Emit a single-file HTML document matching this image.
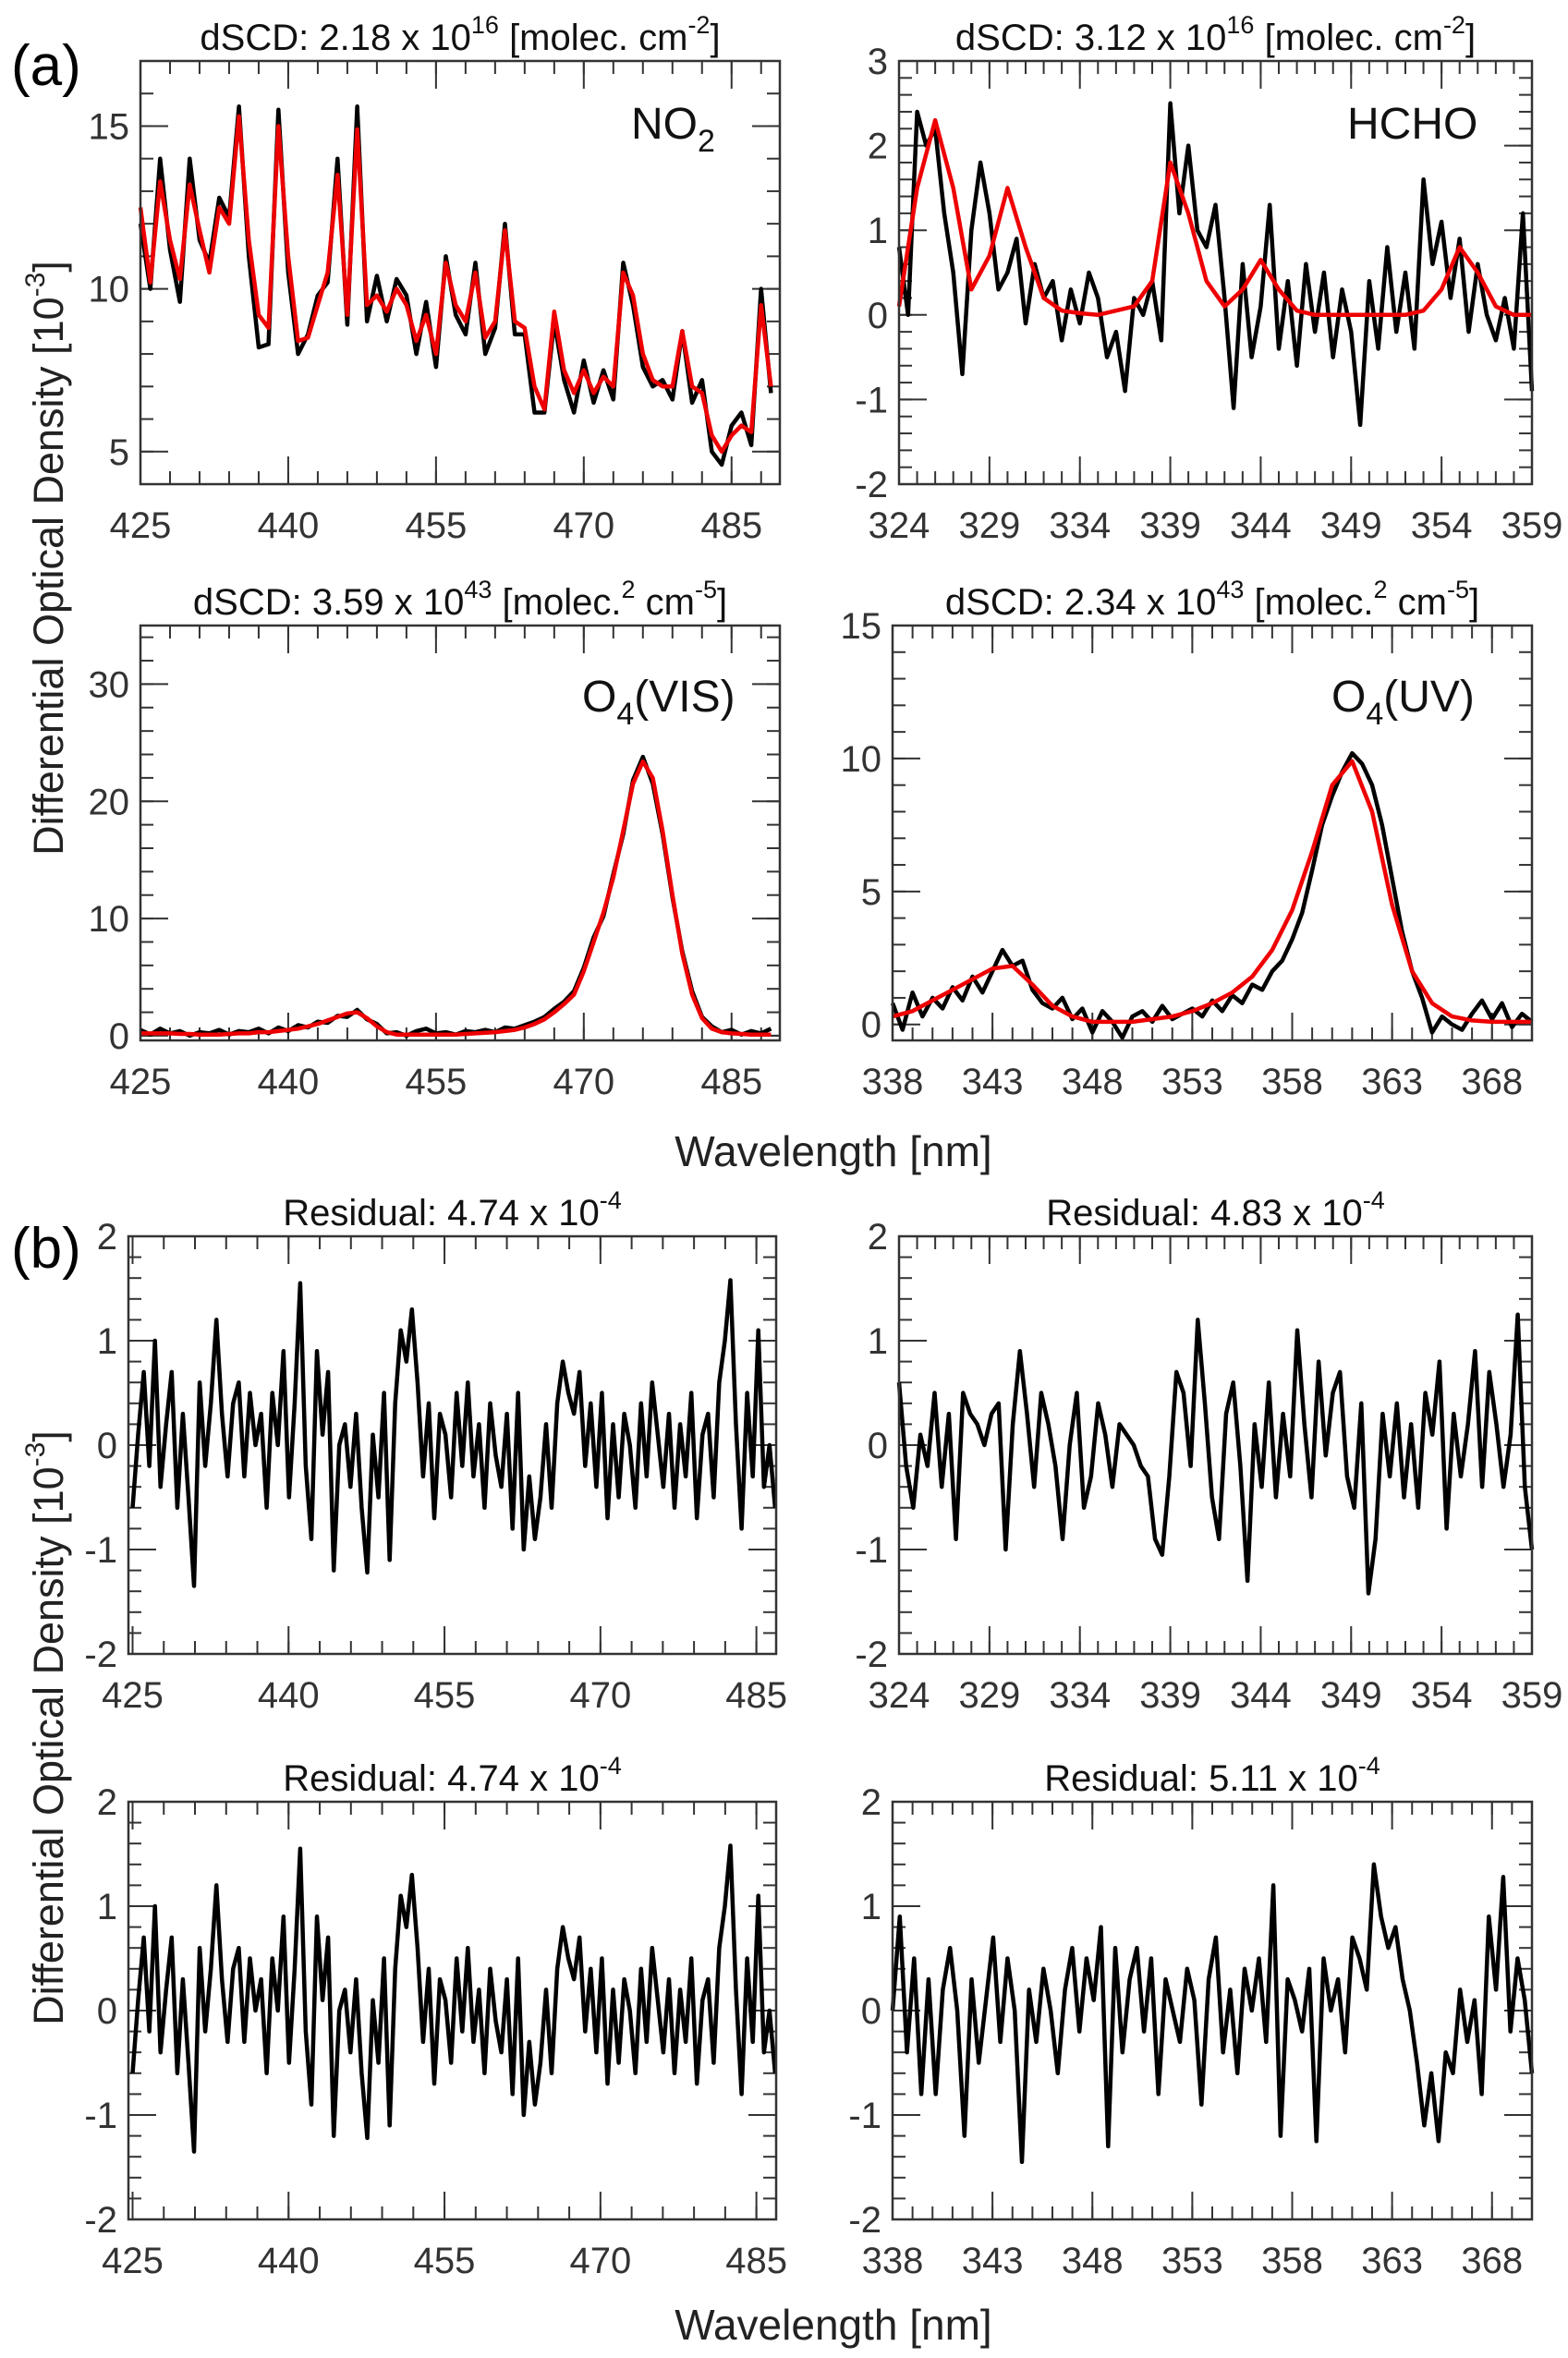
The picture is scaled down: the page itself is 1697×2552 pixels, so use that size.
<!DOCTYPE html>
<html><head><meta charset="utf-8"><title>DOAS fit panels</title>
<style>
html,body{margin:0;padding:0;background:#fff;}
svg{display:block;font-family:"Liberation Sans",Arial,sans-serif;}
</style></head>
<body>
<svg id="fig" width="1697" height="2552" viewBox="0 0 1697 2552" xmlns="http://www.w3.org/2000/svg">
<rect x="0" y="0" width="1697" height="2552" fill="#fff"/>
<text x="12" y="92" font-size="62">(a)</text>
<text x="12" y="1372" font-size="62">(b)</text>
<text transform="translate(68,604) rotate(-90)" text-anchor="middle" font-size="45" fill="#222">Differential Optical Density [10<tspan font-size="30" dy="-20">-3</tspan><tspan dy="20">]</tspan></text>
<text transform="translate(68,1870) rotate(-90)" text-anchor="middle" font-size="45" fill="#222">Differential Optical Density [10<tspan font-size="30" dy="-20">-3</tspan><tspan dy="20">]</tspan></text>
<text x="902" y="1262" text-anchor="middle" font-size="46" fill="#222">Wavelength [nm]</text>
<text x="902" y="2532" text-anchor="middle" font-size="46" fill="#222">Wavelength [nm]</text>
</svg>
<script>
// ---- data ----
const no2Fit = [12.5,10.2,13.3,11.5,10.3,13.2,11.8,10.5,12.5,12.0,15.3,11.5,9.2,8.8,15.0,11.0,8.4,8.5,9.5,10.5,13.5,9.2,14.9,9.5,9.8,9.3,10.0,9.5,8.4,9.2,8.0,10.8,9.5,9.0,10.5,8.5,9.0,11.8,9.0,8.8,7.0,6.3,9.3,7.5,6.8,7.5,6.8,7.3,7.0,10.5,9.8,8.0,7.2,7.0,7.0,8.7,7.0,6.8,5.5,5.0,5.5,5.8,5.6,9.5,7.0];
const no2Meas = [12.0,10.0,14.0,11.2,9.6,14.0,11.5,10.8,12.8,12.2,15.6,11.0,8.2,8.3,15.5,10.5,8.0,8.6,9.8,10.2,14.0,8.9,15.6,9.0,10.4,9.0,10.3,9.8,8.0,9.6,7.6,11.0,9.2,8.6,10.8,8.0,8.8,12.0,8.6,8.6,6.2,6.2,9.0,7.2,6.2,7.8,6.5,7.5,6.6,10.8,9.5,7.6,7.0,7.2,6.6,8.7,6.5,7.2,5.0,4.6,5.8,6.2,5.2,10.0,6.8];
const hchoFit = [0.1,1.5,2.3,1.5,0.3,0.7,1.5,0.8,0.2,0.05,0.02,0,0.05,0.1,0.4,1.8,1.2,0.4,0.1,0.3,0.65,0.3,0.05,0,0,0,0,0,0,0.05,0.3,0.8,0.5,0.1,0,0];
const hchoMeas = [0.8,0.0,2.4,2.0,2.2,1.2,0.5,-0.7,1.0,1.8,1.2,0.3,0.5,0.9,-0.1,0.6,0.2,0.4,-0.3,0.3,-0.1,0.5,0.2,-0.5,-0.2,-0.9,0.2,0.0,0.4,-0.3,2.5,1.2,2.0,1.0,0.8,1.3,0.2,-1.1,0.6,-0.5,0.1,1.3,-0.4,0.4,-0.6,0.6,-0.2,0.5,-0.5,0.3,-0.2,-1.3,0.4,-0.4,0.8,-0.2,0.5,-0.4,1.6,0.6,1.1,0.2,0.9,-0.2,0.6,0.0,-0.3,0.2,-0.4,1.2,-0.9];
const o4visFit = [0.2,0.2,0.2,0.2,0.15,0.15,0.1,0.1,0.1,0.15,0.2,0.2,0.3,0.3,0.4,0.5,0.6,0.8,1.0,1.3,1.6,1.9,2.0,1.5,0.8,0.3,0.1,0.1,0.1,0.1,0.1,0.1,0.1,0.15,0.2,0.25,0.3,0.4,0.5,0.7,1.0,1.4,2.0,2.7,3.5,5.5,8.0,10.5,13.5,17.5,21.5,23.4,22.0,17.5,12.0,7.0,3.5,1.5,0.6,0.3,0.2,0.15,0.1,0.1,0.1];
const o4visMeas = [0.5,0.1,0.6,0.2,0.4,0.0,0.3,0.2,0.5,0.1,0.4,0.3,0.6,0.2,0.7,0.4,0.9,0.7,1.2,1.1,1.7,1.6,2.2,1.4,1.0,0.2,0.3,0.0,0.4,0.6,0.2,0.3,0.1,0.4,0.3,0.5,0.3,0.7,0.6,0.9,1.2,1.6,2.3,2.9,3.8,5.8,8.4,10.2,13.8,17.2,21.8,23.8,21.5,17.2,11.8,7.2,3.8,1.6,0.8,0.3,0.5,0.1,0.4,0.2,0.6];
const o4uvFit = [0.3,0.5,0.9,1.3,1.7,2.1,2.2,1.5,0.7,0.3,0.1,0.1,0.1,0.2,0.3,0.5,0.8,1.2,1.8,2.8,4.3,6.5,9.0,9.9,8.0,4.5,2.0,0.8,0.3,0.15,0.1,0.1,0.1];
const o4uvMeas = [0.8,-0.2,1.2,0.3,1.0,0.6,1.4,0.9,1.8,1.2,2.0,2.8,2.2,2.4,1.3,0.8,0.6,1.0,0.2,0.6,-0.3,0.5,0.1,-0.5,0.3,0.5,0.1,0.7,0.2,0.4,0.6,0.3,0.9,0.5,1.1,0.8,1.5,1.3,2.0,2.4,3.2,4.2,5.8,7.5,8.6,9.5,10.2,9.8,9.0,7.5,5.5,3.5,2.0,1.0,-0.3,0.3,0.0,-0.2,0.4,0.9,0.2,0.8,-0.1,0.4,0.1];
const residVis = [-0.6,0.1,0.7,-0.2,1.0,-0.4,0.2,0.7,-0.6,0.3,-0.5,-1.35,0.6,-0.2,0.4,1.2,0.3,-0.3,0.4,0.6,-0.3,0.5,0.0,0.3,-0.6,0.5,0.0,0.9,-0.5,0.4,1.55,-0.2,-0.9,0.9,0.1,0.7,-1.2,0.0,0.2,-0.4,0.3,-0.6,-1.22,0.1,-0.5,0.5,-1.1,0.4,1.1,0.8,1.3,0.6,-0.3,0.4,-0.7,0.3,0.1,-0.5,0.5,-0.2,0.6,-0.3,0.2,-0.6,0.4,-0.1,-0.4,0.3,-0.8,0.5,-1.0,-0.3,-0.9,-0.5,0.2,-0.6,0.4,0.8,0.5,0.3,0.7,-0.2,0.4,-0.4,0.5,-0.7,0.2,-0.5,0.3,0.0,-0.6,0.4,-0.3,0.6,0.1,-0.4,0.3,-0.6,0.2,-0.3,0.5,-0.7,0.1,0.3,-0.5,0.6,1.0,1.58,0.2,-0.8,0.5,-0.3,1.1,-0.4,0.0,-0.6];
const residHcho = [0.6,-0.2,-0.6,0.1,-0.2,0.5,-0.4,0.3,-0.9,0.5,0.3,0.2,0.0,0.3,0.4,-1.0,0.2,0.9,0.3,-0.4,0.5,0.2,-0.2,-0.9,0.0,0.5,-0.6,-0.3,0.4,0.1,-0.4,0.2,0.1,0.0,-0.2,-0.3,-0.9,-1.05,-0.3,0.7,0.5,-0.2,1.2,0.4,-0.5,-0.9,0.3,0.6,-0.2,-1.3,0.2,-0.4,0.6,-0.5,0.3,-0.3,1.1,0.2,-0.5,0.8,-0.1,0.5,0.7,-0.3,-0.6,0.4,-1.42,-0.9,0.3,-0.3,0.4,-0.5,0.2,-0.6,0.5,0.1,0.8,-0.8,0.3,-0.3,0.2,0.9,-0.4,0.7,0.2,-0.4,0.1,1.25,-0.4,-1.0];
const residVis2 = residVis;
const residUv = [0.0,0.9,-0.4,0.5,-0.8,0.3,-0.8,0.2,0.6,0.0,-1.2,0.3,-0.5,0.1,0.7,-0.3,0.5,0.0,-1.45,0.2,-0.3,0.4,0.0,-0.6,0.2,0.6,-0.2,0.5,0.1,0.8,-1.3,0.6,-0.4,0.3,0.6,-0.2,0.5,-0.8,0.3,0.0,-0.3,0.4,0.1,-0.9,0.3,0.7,-0.4,0.2,-0.6,0.4,0.0,0.5,-0.3,1.2,-1.2,0.3,0.1,-0.2,0.4,-1.25,0.5,0.0,0.3,-0.4,0.7,0.5,0.2,1.4,0.9,0.6,0.8,0.3,0.0,-0.5,-1.1,-0.6,-1.25,-0.4,-0.6,0.2,-0.3,0.1,-0.8,0.9,0.2,1.28,-0.2,0.5,0.1,-0.6];
const ticksVis = [425,440,455,470,485];
const ticksHcho = [324,329,334,339,344,349,354,359];
const ticksUv = [338,343,348,353,358,363,368];

const NS = 'http://www.w3.org/2000/svg';
const svg = document.getElementById('fig');
function mk(tag, attrs, parent){
  const e = document.createElementNS(NS, tag);
  for (const k in attrs) e.setAttribute(k, attrs[k]);
  (parent||svg).appendChild(e);
  return e;
}
function panel(c){
  const g = mk('g', {});
  
  
  const sx = v => c.L + (v - c.x0) / (c.x1 - c.x0) * (c.R - c.L);
  const sy = v => c.B - (v - c.y0) / (c.y1 - c.y0) * (c.B - c.T);
  for (let v = c.xm0; v <= c.x1 + 1e-6; v += c.xmStep){
    const x = sx(v);
    if (x <= c.L + 2 || x >= c.R - 2) continue;
    const t1 = mk('line', {x1:x, x2:x, y1:c.B, y2:c.B-14, stroke:'#333','stroke-width':2}, g);
    
    
    const t2 = mk('line', {x1:x, x2:x, y1:c.T, y2:c.T+14, stroke:'#333','stroke-width':2}, g);
    
    
  }
  for (let v = c.ym0; v <= c.y1 + 1e-6; v += c.ymStep){
    const y = sy(v);
    if (y <= c.T + 2 || y >= c.B - 2) continue;
    const t1 = mk('line', {x1:c.L, x2:c.L+14, y1:y, y2:y, stroke:'#333','stroke-width':2}, g);
    
    
    const t2 = mk('line', {x1:c.R, x2:c.R-14, y1:y, y2:y, stroke:'#333','stroke-width':2}, g);
    
    
  }
  c.xt.forEach(v => {
    const x = sx(v);
    const t = mk('line', {x1:x, x2:x, y1:c.B, y2:c.B-30, stroke:'#333','stroke-width':2}, g);
    
    
    const t2 = mk('line', {x1:x, x2:x, y1:c.T, y2:c.T+30, stroke:'#333','stroke-width':2}, g);
    
    
    const l = mk('text', {x:x, y:c.B+58, 'text-anchor':'middle','font-size':40, fill:'#333'}, g);
    
    
    l.textContent = v;
  });
  c.yt.forEach(v => {
    const y = sy(v);
    const t = mk('line', {x1:c.L, x2:c.L+30, y1:y, y2:y, stroke:'#333','stroke-width':2}, g);
    
    
    const t2 = mk('line', {x1:c.R, x2:c.R-30, y1:y, y2:y, stroke:'#333','stroke-width':2}, g);
    
    
    const l = mk('text', {x:c.L-12, y:y+14, 'text-anchor':'end','font-size':40, fill:'#333'}, g);
    
    
    l.textContent = v;
  });
  c.series.forEach(s => {
    const n = s.vals.length;
    const pts = s.vals.map((v,i) => {
      const w = s.xa + i * (s.xb - s.xa) / (n - 1);
      return sx(w).toFixed(1) + ',' + sy(v).toFixed(1);
    }).join(' ');
    const p = mk('polyline', {points:pts, fill:'none', stroke:s.color, 'stroke-width':4.5, 'stroke-linejoin':'round'}, g);
    
    
  });
  const box = mk('rect', {x:c.L, y:c.T, width:c.R-c.L, height:c.B-c.T, fill:'none', stroke:'#333','stroke-width':2.5}, g);
  
  
  const tt = mk('text', {x:(c.L+c.R)/2, y:c.T-12, 'text-anchor':'middle','font-size':40, fill:'#111'}, g);
  
  
  tt.innerHTML = c.title;
  if (c.label){
    const sl = mk('text', {x:c.lx, y:c.ly, 'font-size':48, fill:'#111'}, g);
    
    
    sl.innerHTML = c.label;
  }
}
const sup = (t) => '<tspan font-size="27" dy="-18">' + t + '</tspan><tspan dy="18">';
const sub = (t) => '<tspan font-size="34" dy="14">' + t + '</tspan><tspan dy="-14">';

panel({name:'no2-panel', L:152, R:844, T:66, B:524, x0:425, x1:489.9, y0:4, y1:17,
  xt:ticksVis, yt:[5,10,15], xm0:428, xmStep:3, ym0:4, ymStep:1,
  title:'dSCD: 2.18 x 10' + sup('16') + ' [molec. cm' + sup('-2') + ']</tspan></tspan>',
  label:'NO' + sub('2') + '</tspan>', lx:683, ly:150,
  series:[{name:'no2-measured', color:'#000', vals:no2Meas, xa:425, xb:489},
          {name:'no2-fit', color:'#e00', vals:no2Fit, xa:425, xb:489}]});
panel({name:'hcho-panel', L:973, R:1658, T:66, B:524, x0:324, x1:359, y0:-2, y1:3,
  xt:ticksHcho, yt:[-2,-1,0,1,2,3], xm0:324, xmStep:1, ym0:-2, ymStep:0.2,
  title:'dSCD: 3.12 x 10' + sup('16') + ' [molec. cm' + sup('-2') + ']</tspan></tspan>',
  label:'HCHO', lx:1458, ly:150,
  series:[{name:'hcho-measured', color:'#000', vals:hchoMeas, xa:324, xb:359},
          {name:'hcho-fit', color:'#e00', vals:hchoFit, xa:324, xb:359}]});
panel({name:'o4-vis-panel', L:152, R:844, T:677, B:1126, x0:425, x1:489.9, y0:-0.4, y1:35,
  xt:ticksVis, yt:[0,10,20,30], xm0:428, xmStep:3, ym0:0, ymStep:2,
  title:'dSCD: 3.59 x 10' + sup('43') + ' [molec.' + sup('2') + ' cm' + sup('-5') + ']</tspan></tspan></tspan>',
  label:'O' + sub('4') + '(VIS)</tspan>', lx:630, ly:770,
  series:[{name:'o4-vis-measured', color:'#000', vals:o4visMeas, xa:425, xb:489},
          {name:'o4-vis-fit', color:'#e00', vals:o4visFit, xa:425, xb:489}]});
panel({name:'o4-uv-panel', L:966, R:1658, T:677, B:1126, x0:338, x1:370, y0:-0.6, y1:15,
  xt:ticksUv, yt:[0,5,10,15], xm0:338, xmStep:1, ym0:0, ymStep:1,
  title:'dSCD: 2.34 x 10' + sup('43') + ' [molec.' + sup('2') + ' cm' + sup('-5') + ']</tspan></tspan></tspan>',
  label:'O' + sub('4') + '(UV)</tspan>', lx:1441, ly:770,
  series:[{name:'o4-uv-measured', color:'#000', vals:o4uvMeas, xa:338, xb:370},
          {name:'o4-uv-fit', color:'#e00', vals:o4uvFit, xa:338, xb:370}]});
panel({name:'residual-no2-panel', L:139, R:840, T:1338, B:1790, x0:424.6, x1:486.9, y0:-2, y1:2,
  xt:ticksVis, yt:[-2,-1,0,1,2], xm0:428, xmStep:3, ym0:-2, ymStep:0.2,
  title:'Residual: 4.74 x 10' + sup('-4') + '</tspan>',
  series:[{name:'residual-no2', color:'#000', vals:residVis, xa:425, xb:486.8}]});
panel({name:'residual-hcho-panel', L:973, R:1658, T:1338, B:1790, x0:324, x1:359, y0:-2, y1:2,
  xt:ticksHcho, yt:[-2,-1,0,1,2], xm0:324, xmStep:1, ym0:-2, ymStep:0.2,
  title:'Residual: 4.83 x 10' + sup('-4') + '</tspan>',
  series:[{name:'residual-hcho', color:'#000', vals:residHcho, xa:324, xb:359}]});
panel({name:'residual-o4-vis-panel', L:139, R:840, T:1950, B:2402, x0:424.6, x1:486.9, y0:-2, y1:2,
  xt:ticksVis, yt:[-2,-1,0,1,2], xm0:428, xmStep:3, ym0:-2, ymStep:0.2,
  title:'Residual: 4.74 x 10' + sup('-4') + '</tspan>',
  series:[{name:'residual-o4-vis', color:'#000', vals:residVis2, xa:425, xb:486.8}]});
panel({name:'residual-o4-uv-panel', L:966, R:1658, T:1950, B:2402, x0:338, x1:370, y0:-2, y1:2,
  xt:ticksUv, yt:[-2,-1,0,1,2], xm0:338, xmStep:1, ym0:-2, ymStep:0.2,
  title:'Residual: 5.11 x 10' + sup('-4') + '</tspan>',
  series:[{name:'residual-o4-uv', color:'#000', vals:residUv, xa:338, xb:370}]});
</script>
</body></html>
